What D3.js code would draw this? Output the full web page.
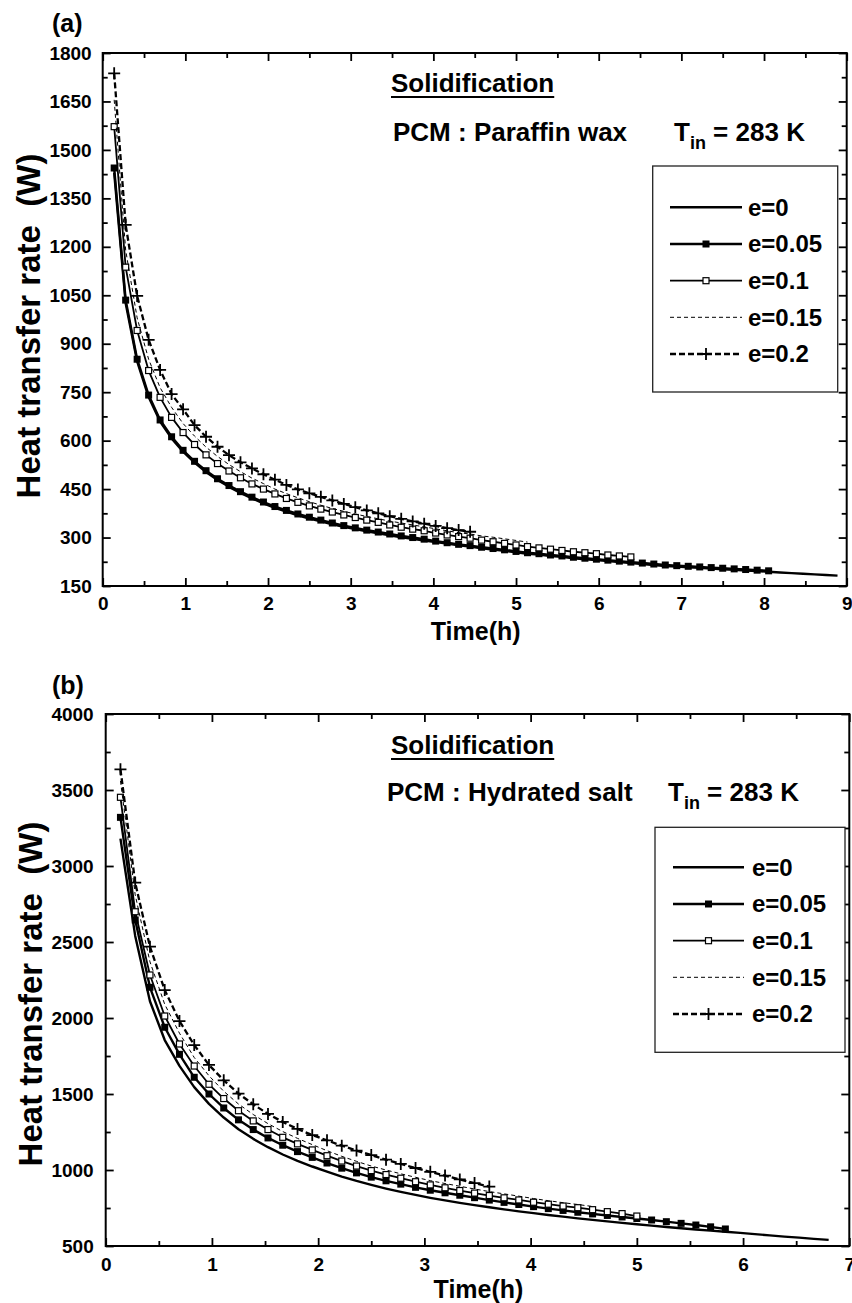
<!DOCTYPE html>
<html>
<head>
<meta charset="utf-8">
<script src="https://cdn.jsdelivr.net/npm/d3@7"></script>
<style>
  body { margin: 0; background: #fff; }
  svg text { font-family: "Liberation Sans", Arial, Helvetica, sans-serif; font-weight: bold; fill: #000; }
</style>
</head>
<body>
<svg id="chart" width="852" height="1303"></svg>
<script>
// Sampling interval of the simulation output: 500 s, expressed in hours
const STEP_H = 500 / 3600;

const seriesLabels = ["e=0", "e=0.05", "e=0.1", "e=0.15", "e=0.2"];

// ---- (a) Paraffin wax: heat transfer rate (W) at each output step ----
const waxE000 = [1430, 1025, 845, 735, 659, 607, 566, 532, 503, 478,
  457, 438, 421, 406, 392, 380, 369, 359, 350, 341,
  333, 326, 319, 313, 307, 301, 296, 291, 286, 281,
  276, 272, 267, 263, 259, 254, 250, 247, 243, 240,
  236, 233, 230, 227, 224, 221, 218, 215, 212, 210,
  208, 206, 204, 202, 200, 198, 196, 194, 192, 190,
  188, 186, 184, 182];
const waxE005 = [1444, 1035, 852, 741, 664, 612, 570, 536, 507, 482,
  461, 442, 425, 410, 396, 384, 373, 363, 354, 345,
  337, 330, 323, 317, 311, 305, 300, 295, 289, 284,
  279, 275, 270, 266, 262, 257, 253, 250, 246, 243,
  239, 236, 233, 230, 227, 224, 221, 218, 215, 213,
  211, 209, 207, 205, 203, 201, 199, 197];
const waxE010 = [1572, 1137, 941, 817, 734, 672, 625, 588, 556, 529,
  506, 485, 466, 450, 435, 421, 409, 398, 388, 379,
  370, 362, 354, 347, 339, 332, 326, 321, 314, 308,
  303, 298, 292, 287, 282, 277, 272, 268, 264, 260,
  256, 253, 250, 246, 243, 240];
const waxE015 = [1655, 1190, 980, 852, 764, 703, 653, 614, 580, 551,
  526, 504, 484, 467, 450, 436, 423, 411, 400, 390,
  381, 373, 365, 358, 351, 345, 339, 333, 327, 321,
  315, 311, 305, 301, 296, 291, 286];
const waxE020 = [1737, 1268, 1048, 912, 819, 744, 697, 648, 612, 581,
  555, 533, 514, 496, 479, 463, 449, 437, 426, 415,
  404, 394, 384, 375, 366, 358, 350, 343, 336, 329,
  323, 318];

// ---- (b) Hydrated salt: heat transfer rate (W) at each output step ----
const saltE000 = [3180, 2540, 2110, 1855, 1685, 1545, 1435, 1345, 1268, 1205,
  1150, 1102, 1060, 1023, 989, 957, 928, 902, 878, 856,
  836, 817, 800, 784, 769, 755, 741, 728, 716, 704,
  693, 682, 672, 662, 652, 643, 634, 625, 617, 609,
  601, 594, 586, 578, 570, 562, 555, 547, 540];
const saltE005 = [3320, 2645, 2202, 1939, 1761, 1610, 1500, 1408, 1330, 1266,
  1211, 1163, 1121, 1083, 1046, 1012, 981, 953, 929, 907,
  886, 867, 850, 834, 818, 802, 787, 773, 759, 746,
  734, 722, 711, 701, 691, 681, 671, 660, 649, 638,
  626, 612];
const saltE010 = [3452, 2699, 2283, 2013, 1829, 1684, 1564, 1470, 1390, 1323,
  1266, 1215, 1172, 1132, 1094, 1059, 1026, 996, 970, 946,
  923, 902, 883, 865, 848, 832, 817, 803, 788, 775,
  763, 752, 739, 726, 713, 697];
const saltE015 = [3560, 2810, 2370, 2090, 1900, 1740, 1620, 1518, 1434, 1365,
  1305, 1253, 1208, 1167, 1127, 1090, 1057, 1026, 1000, 975,
  952, 930, 911, 893, 875, 858, 843, 828, 812, 798,
  785, 773, 760];
const saltE020 = [3636, 2890, 2469, 2184, 1980, 1822, 1691, 1590, 1503, 1432,
  1369, 1316, 1270, 1230, 1195, 1160, 1128, 1098, 1068, 1040,
  1013, 988, 963, 938, 914, 891];

// ---- axis ticks ----
const waxXTicks = [0, 1, 2, 3, 4, 5, 6, 7, 8, 9];
const waxYTicks = [150, 300, 450, 600, 750, 900, 1050, 1200, 1350, 1500, 1650, 1800];
const saltXTicks = [0, 1, 2, 3, 4, 5, 6, 7];
const saltYTicks = [500, 1000, 1500, 2000, 2500, 3000, 3500, 4000];

// Line / marker appearance for each eccentricity
const seriesStyle = [
  { width: 2.4, dash: null, marker: null },
  { width: 2.4, dash: null, marker: "filled" },
  { width: 1.8, dash: null, marker: "open" },
  { width: 1.0, dash: "4,3", marker: null },
  { width: 2.3, dash: "6,3", marker: "plus" }
];

const svg = d3.select("#chart");

function toPoints(values) {
  return values.map((v, i) => ({ t: (i + 1) * STEP_H, q: v }));
}

function midTicks(ticks) {
  const out = [];
  for (let i = 0; i < ticks.length - 1; i++) out.push((ticks[i] + ticks[i + 1]) / 2);
  return out;
}

function drawMarker(sel, kind) {
  if (kind === "filled") {
    sel.append("rect").attr("x", -3.5).attr("y", -3.5)
      .attr("width", 7).attr("height", 7).attr("fill", "#000");
  } else if (kind === "open") {
    sel.append("rect").attr("x", -3).attr("y", -3)
      .attr("width", 6).attr("height", 6)
      .attr("fill", "#fff").attr("stroke", "#000").attr("stroke-width", 1.2);
  } else if (kind === "plus") {
    sel.append("path").attr("d", "M-6,0H6M0,-6V6")
      .attr("stroke", "#000").attr("stroke-width", 1.8).attr("fill", "none");
  }
}

function drawPanel(cfg) {
  const g = svg.append("g");
  const x = d3.scaleLinear().domain(cfg.xDomain).range([cfg.left, cfg.right]);
  const y = d3.scaleLinear().domain(cfg.yDomain).range([cfg.bottom, cfg.top]);

  // series
  const line = d3.line().x(d => x(d.t)).y(d => y(d.q));
  cfg.series.forEach((vals, k) => {
    const st = seriesStyle[k];
    const pts = toPoints(vals);
    g.append("path").datum(pts).attr("d", line)
      .attr("fill", "none").attr("stroke", "#000")
      .attr("stroke-width", st.width)
      .attr("stroke-dasharray", st.dash)
      .attr("stroke-linejoin", "round");
    if (st.marker) {
      g.append("g").selectAll("g").data(pts).join("g")
        .attr("transform", d => `translate(${x(d.t)},${y(d.q)})`)
        .each(function () { drawMarker(d3.select(this), st.marker); });
    }
  });

  // axes with inward ticks on all four sides
  const axisStyle = sel => {
    sel.select(".domain").remove();
    sel.selectAll(".tick line").attr("stroke", "#000").attr("stroke-width", 1.8);
    sel.selectAll("text").style("font-size", "19px");
  };
  const H = cfg.bottom, L = cfg.left;
  g.append("g").attr("transform", `translate(0,${H})`)
    .call(d3.axisBottom(x).tickValues(cfg.xTicks).tickSize(-8).tickPadding(cfg.xPad).tickFormat(d3.format("d")))
    .call(axisStyle);
  g.append("g").attr("transform", `translate(0,${H})`)
    .call(d3.axisBottom(x).tickValues(midTicks(cfg.xTicks)).tickSize(-5).tickFormat(""))
    .call(axisStyle);
  g.append("g").attr("transform", `translate(0,${cfg.top})`)
    .call(d3.axisTop(x).tickValues(cfg.xTicks).tickSize(-8).tickFormat(""))
    .call(axisStyle);
  g.append("g").attr("transform", `translate(0,${cfg.top})`)
    .call(d3.axisTop(x).tickValues(midTicks(cfg.xTicks)).tickSize(-5).tickFormat(""))
    .call(axisStyle);
  g.append("g").attr("transform", `translate(${L},0)`)
    .call(d3.axisLeft(y).tickValues(cfg.yTicks).tickSize(-8).tickPadding(cfg.yPad).tickFormat(d3.format("d")))
    .call(axisStyle);
  g.append("g").attr("transform", `translate(${L},0)`)
    .call(d3.axisLeft(y).tickValues(midTicks(cfg.yTicks)).tickSize(-5).tickFormat(""))
    .call(axisStyle);
  g.append("g").attr("transform", `translate(${cfg.right},0)`)
    .call(d3.axisRight(y).tickValues(cfg.yTicks).tickSize(-8).tickFormat(""))
    .call(axisStyle);
  g.append("g").attr("transform", `translate(${cfg.right},0)`)
    .call(d3.axisRight(y).tickValues(midTicks(cfg.yTicks)).tickSize(-5).tickFormat(""))
    .call(axisStyle);

  // frame
  g.append("rect").attr("x", cfg.left).attr("y", cfg.top)
    .attr("width", cfg.right - cfg.left).attr("height", cfg.bottom - cfg.top)
    .attr("fill", "none").attr("stroke", "#000").attr("stroke-width", 2);

  // axis titles
  g.append("text").attr("x", (cfg.left + cfg.right) / 2 + 1).attr("y", cfg.xTitleY)
    .attr("text-anchor", "middle").style("font-size", "25px").text("Time(h)");
  g.append("text")
    .attr("transform", `translate(${cfg.yTitleX},${cfg.yTitleY}) rotate(-90)`)
    .attr("text-anchor", "middle").style("font-size", "33px").style("white-space", "pre")
    .text("Heat transfer rate  (W)");

  // panel tag
  g.append("text").attr("x", 52).attr("y", cfg.tagY).style("font-size", "25px").text(cfg.tag);

  // annotations
  const ttl = g.append("text").attr("x", cfg.titleX).attr("y", cfg.titleY)
    .style("font-size", "26px").text("Solidification");
  const tw = ttl.node().getComputedTextLength();
  g.append("line").attr("x1", cfg.titleX).attr("x2", cfg.titleX + tw)
    .attr("y1", cfg.titleY + 5).attr("y2", cfg.titleY + 5)
    .attr("stroke", "#000").attr("stroke-width", 2);
  g.append("text").attr("x", cfg.pcmX).attr("y", cfg.pcmY)
    .style("font-size", "26px").text(cfg.pcm);
  const tin = g.append("text").attr("x", cfg.tinX).attr("y", cfg.pcmY).style("font-size", "26px");
  tin.append("tspan").text("T");
  tin.append("tspan").attr("dy", 8).style("font-size", "18px").text("in");
  tin.append("tspan").attr("dy", -8).text(" = 283 K");

  // legend
  const lg = g.append("g");
  lg.append("rect").attr("x", cfg.legend.x).attr("y", cfg.legend.y)
    .attr("width", cfg.legend.w).attr("height", cfg.legend.h)
    .attr("fill", "#fff").attr("stroke", "#222").attr("stroke-width", 1.3);
  seriesLabels.forEach((lab, k) => {
    const st = seriesStyle[k];
    const ry = cfg.legend.rowY[k];
    const x1 = cfg.legend.sx1, x2 = cfg.legend.sx2;
    lg.append("line").attr("x1", x1).attr("x2", x2).attr("y1", ry).attr("y2", ry)
      .attr("stroke", "#000").attr("stroke-width", st.width).attr("stroke-dasharray", st.dash);
    if (st.marker) {
      const m = lg.append("g").attr("transform", `translate(${(x1 + x2) / 2},${ry})`);
      drawMarker(m, st.marker);
    }
    lg.append("text").attr("x", cfg.legend.tx).attr("y", ry).attr("dy", "0.35em")
      .style("font-size", "24px").text(lab);
  });
}

drawPanel({
  tag: "(a)", tagY: 32,
  left: 102.7, right: 846.7, top: 53, bottom: 586,
  xDomain: [0, 9], yDomain: [150, 1800],
  xTicks: waxXTicks, yTicks: waxYTicks, xPad: 11, yPad: 11,
  xTitleY: 640, yTitleX: 40, yTitleY: 326,
  series: [waxE000, waxE005, waxE010, waxE015, waxE020],
  titleX: 391, titleY: 92, pcm: "PCM : Paraffin wax", pcmX: 393, pcmY: 141, tinX: 674,
  legend: { x: 652.7, y: 166, w: 185, h: 226, rowY: [207.3, 244, 280.7, 317.3, 354],
            sx1: 670, sx2: 742, tx: 748 }
});

drawPanel({
  tag: "(b)", tagY: 694,
  left: 105.7, right: 849.3, top: 714, bottom: 1246,
  xDomain: [0, 7], yDomain: [500, 4000],
  xTicks: saltXTicks, yTicks: saltYTicks, xPad: 12, yPad: 12,
  xTitleY: 1298, yTitleX: 42, yTitleY: 994,
  series: [saltE000, saltE005, saltE010, saltE015, saltE020],
  titleX: 391, titleY: 754, pcm: "PCM : Hydrated salt", pcmX: 387, pcmY: 801, tinX: 668,
  legend: { x: 655, y: 827.3, w: 190, h: 225, rowY: [867.3, 904, 940.7, 977.3, 1014],
            sx1: 673, sx2: 744, tx: 752 }
});
</script>
</body>
</html>
